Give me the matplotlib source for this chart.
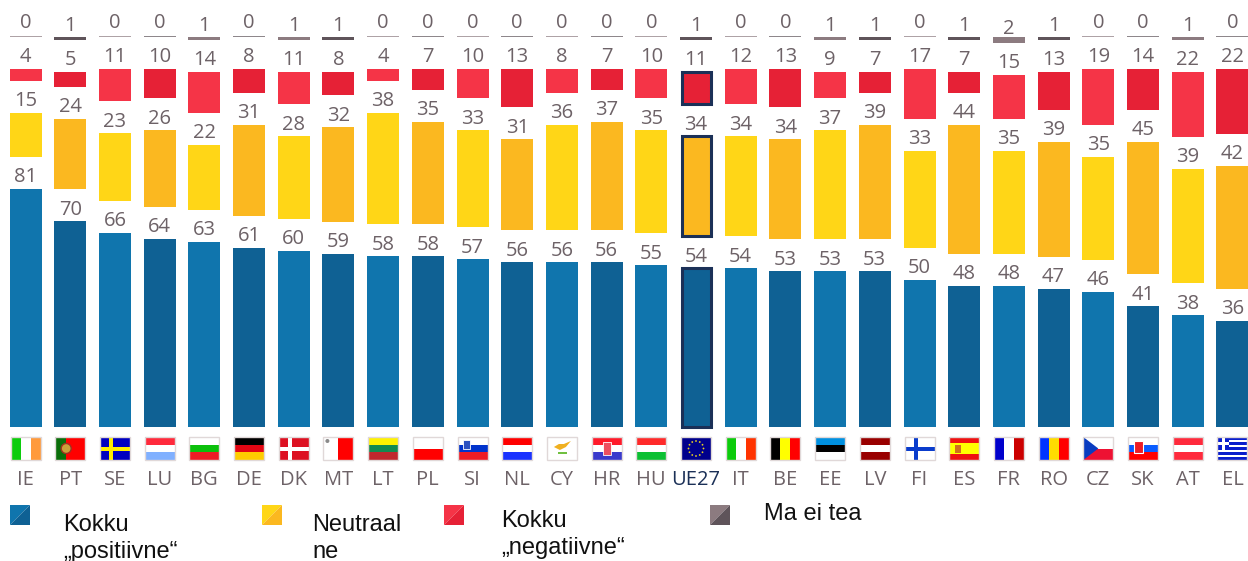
import matplotlib as mpl
mpl.use('Agg')
import matplotlib.pyplot as plt
from math import cos, sin, pi
from matplotlib.patches import Rectangle, Polygon, Circle

# Values
countries = ['IE','PT','SE','LU','BG','DE','DK','MT','LT','PL','SI','NL','CY','HR','HU','UE27','IT','BE','EE','LV','FI','ES','FR','RO','CZ','SK','AT','EL']
positive = [81,70,66,64,63,61,60,59,58,58,57,56,56,56,55,54,54,53,53,53,50,48,48,47,46,41,38,36]
neutral = [15,24,23,26,22,31,28,32,38,35,33,31,36,37,35,34,34,34,37,39,33,44,35,39,35,45,39,42]
negative = [4,5,11,10,14,8,11,8,4,7,10,13,8,7,10,11,12,13,9,7,17,7,15,13,19,14,22,22]
dont_know = [0,1,0,0,1,0,1,1,0,0,0,0,0,0,0,1,0,0,1,1,0,1,2,1,0,0,1,0]

legend_labels = ['Kokku\n„positiivne“', 'Neutraal\nne', 'Kokku\n„negatiivne“', 'Ma ei tea']

# stripes of each flag: direction, then colours
flag_stripes = {
    'IE': ('v', ['#0ccc0c', '#ffffff', '#ff9a3c']),
    'PT': ('v', ['#0a6e0a', '#ff0000', '#ff0000']),
    'SE': ('h', ['#0000c0']),
    'LU': ('h', ['#ff2a3c', '#ffffff', '#80b0ff']),
    'BG': ('h', ['#ffffff', '#0cc00c', '#ee1c25']),
    'DE': ('h', ['#000000', '#e30613', '#ffcc00']),
    'DK': ('h', ['#dd1122']),
    'MT': ('v', ['#ffffff', '#ff0000']),
    'LT': ('h', ['#fff200', '#138a50', '#c1272d']),
    'PL': ('h', ['#ffffff', '#ff0000']),
    'SI': ('h', ['#ffffff', '#0033cc', '#ee1c25']),
    'NL': ('h', ['#ff0000', '#ffffff', '#1a32ff']),
    'CY': ('h', ['#ffffff']),
    'HR': ('h', ['#ff1a2a', '#ffffff', '#3a3acc']),
    'HU': ('h', ['#ff2a2a', '#ffffff', '#0cc033']),
    'UE27': ('h', ['#00008c']),
    'IT': ('v', ['#0ccc0c', '#ffffff', '#ff3300']),
    'BE': ('v', ['#000000', '#ffff00', '#ff0000']),
    'EE': ('h', ['#0090e0', '#000000', '#ffffff']),
    'LV': ('h', ['#990000', '#ffffff', '#990000']),
    'FI': ('h', ['#ffffff']),
    'ES': ('h', ['#ee1111', '#ffff00', '#ffff00', '#ee1111']),
    'FR': ('v', ['#0000cc', '#ffffff', '#cc0000']),
    'RO': ('v', ['#0033ff', '#ffdd00', '#ff0000']),
    'CZ': ('h', ['#ffffff', '#ee1133']),
    'SK': ('h', ['#ffffff', '#0a5cff', '#ff0000']),
    'AT': ('h', ['#ff2a3c', '#ffffff', '#ff2a3c']),
    'EL': ('h', ['#0a1ecc', '#ffffff', '#0a1ecc', '#ffffff', '#0a1ecc', '#ffffff', '#0a1ecc', '#ffffff', '#0a1ecc']),
}

blues = ['#1075ad', '#0f6194']
yellows = ['#ffd617', '#fbb820']
reds = ['#f53447', '#e62136']
greys = ['#8c7b80', '#5f545a']
txt_col = '#6d6267'
navy = '#1b3057'

plt.rcParams['font.family'] = ['Open Sans', 'DejaVu Sans']

W, H = 1248, 561
step = 44.7      # px between bars
first = 25.5     # px of first bar centre
base = 427       # px of zero line
ppu = 2.94       # px per percent
gap = 32 / ppu
bar_w = 32 / step

fig = plt.figure(figsize=(W / 100, H / 100), dpi=100)
ax = fig.add_axes([0, 0, 1, 1])
ax.set_xlim(-first / step, (W - first) / step)
ax.set_ylim(-(H - base) / ppu, base / ppu)
ax.axis('off')

# overlay in pixels for the flags and the legend
pix = fig.add_axes([0, 0, 1, 1])
pix.set_xlim(0, W)
pix.set_ylim(H, 0)
pix.axis('off')
pix.patch.set_alpha(0)

x = list(range(len(countries)))

for i in x:
    c = i % 2
    eu = countries[i] == 'UE27'
    w = bar_w - 3 / step if eu else bar_w
    ec = navy if eu else 'none'
    lw = 2.2 if eu else 0
    b = 0
    for val, col in ((positive[i], blues[c]), (neutral[i], yellows[c]), (negative[i], reds[c])):
        ax.bar(i, val, bottom=b, width=w, color=col, edgecolor=ec, linewidth=lw)
        ax.annotate(str(val), (i, b + val), xytext=(0, 4.8), textcoords='offset points',
                    ha='center', va='baseline', fontsize=14.5, color=txt_col)
        b += val + gap
    h = max(dont_know[i], 0.5)
    ax.bar(i, h, bottom=b, width=bar_w, color=greys[c], linewidth=0, alpha=1 if dont_know[i] else 0.7)
    ax.annotate(str(dont_know[i]), (i, b + 0.5), xytext=(0, 5.5), textcoords='offset points',
                ha='center', va='baseline', fontsize=14.5, color=txt_col)
    ax.annotate(countries[i], (i, 0), xytext=(0, -42), textcoords='offset points', ha='center',
                va='baseline', fontsize=14.5, color=navy if eu else txt_col)


def draw_flag(code, cx):
    l, t, fw, fh = cx - 15, 437, 30, 23
    kind, cols = flag_stripes[code]
    n = len(cols)
    for k, col in enumerate(cols):
        if kind == 'h':
            pix.add_patch(Rectangle((l, t + k * fh / n), fw, fh / n, fc=col, lw=0))
        else:
            pix.add_patch(Rectangle((l + k * fw / n, t), fw / n, fh, fc=col, lw=0))
    if code == 'PT':
        pix.add_patch(Rectangle((l, t), 11, fh, fc='#0a6e0a', lw=0))
        pix.add_patch(Circle((l + 11, t + 11.5), 5, fc='#c9a13a', ec='#a03020', lw=1))
    elif code in ('SE', 'DK', 'FI'):
        col = {'SE': '#ffee00', 'DK': '#ffffff', 'FI': '#0a3ccc'}[code]
        pix.add_patch(Rectangle((l + 9, t), 4.5, fh, fc=col, lw=0))
        pix.add_patch(Rectangle((l, t + 9.5), fw, 4.5, fc=col, lw=0))
    elif code == 'MT':
        pix.add_patch(Circle((l + 4, t + 4), 2, fc='#8a8a8a', lw=0))
    elif code == 'SI':
        pix.add_patch(Rectangle((l + 5, t + 3), 7, 9, fc='#2a50c0', ec='#ffffff', lw=0.6))
    elif code == 'CY':
        pix.add_patch(Polygon([(l + 7, t + 10), (l + 12, t + 7), (l + 17, t + 7), (l + 24, t + 4), (l + 19, t + 10), (l + 13, t + 13)], fc='#f0b020', lw=0))
        pix.add_patch(Rectangle((l + 11, t + 15), 9, 2, fc='#70c040', lw=0))
    elif code == 'HR':
        pix.add_patch(Rectangle((l + 11, t + 5), 8, 13, fc='#ee5060', ec='#ffffff', lw=0.6))
    elif code == 'UE27':
        for s in range(12):
            pix.add_patch(Circle((l + 15 + 7.5 * cos(s * pi / 6), t + 11.5 + 7.5 * sin(s * pi / 6)), 0.9, fc='#e8d020', lw=0))
    elif code == 'ES':
        pix.add_patch(Rectangle((l + 6, t + 8), 6, 8, fc='#d0701c', lw=0))
    elif code == 'CZ':
        pix.add_patch(Polygon([(l, t), (l + 15, t + fh / 2), (l, t + fh)], fc='#0a3cc0', lw=0))
    elif code == 'SK':
        pix.add_patch(Rectangle((l + 6, t + 4), 9, 12, fc='#ee1c25', ec='#ffffff', lw=0.8))
    elif code == 'EL':
        pix.add_patch(Rectangle((l, t), 12, 12.8, fc='#0a1ecc', lw=0))
        pix.add_patch(Rectangle((l + 5, t), 2.6, 12.8, fc='#ffffff', lw=0))
        pix.add_patch(Rectangle((l, t + 5.1), 12, 2.6, fc='#ffffff', lw=0))
    pix.add_patch(Rectangle((l, t), fw, fh, fill=False, ec='#e0d8d8', lw=1))


for i in x:
    draw_flag(countries[i], first + i * step)

# legend: split squares and wrapped labels
leg_x = [10, 262, 444, 710]
leg_text_x = [63, 312, 501, 764]
leg_text_y = [531, 531, 527, 520]
leg_cols = [blues, yellows, reds, greys]
for lx, tx, ty, cols, lab in zip(leg_x, leg_text_x, leg_text_y, leg_cols, legend_labels):
    pix.add_patch(Polygon([(lx, 505), (lx + 20, 505), (lx, 525)], fc=cols[0], lw=0))
    pix.add_patch(Polygon([(lx + 20, 505), (lx + 20, 525), (lx, 525)], fc=cols[1], lw=0))
    for k, line in enumerate(lab.split('\n')):
        pix.text(tx, ty + k * 27, line, fontsize=17, family='Liberation Sans', color='#111111',
                 ha='left', va='baseline')

fig.savefig('out.png', dpi=100)
